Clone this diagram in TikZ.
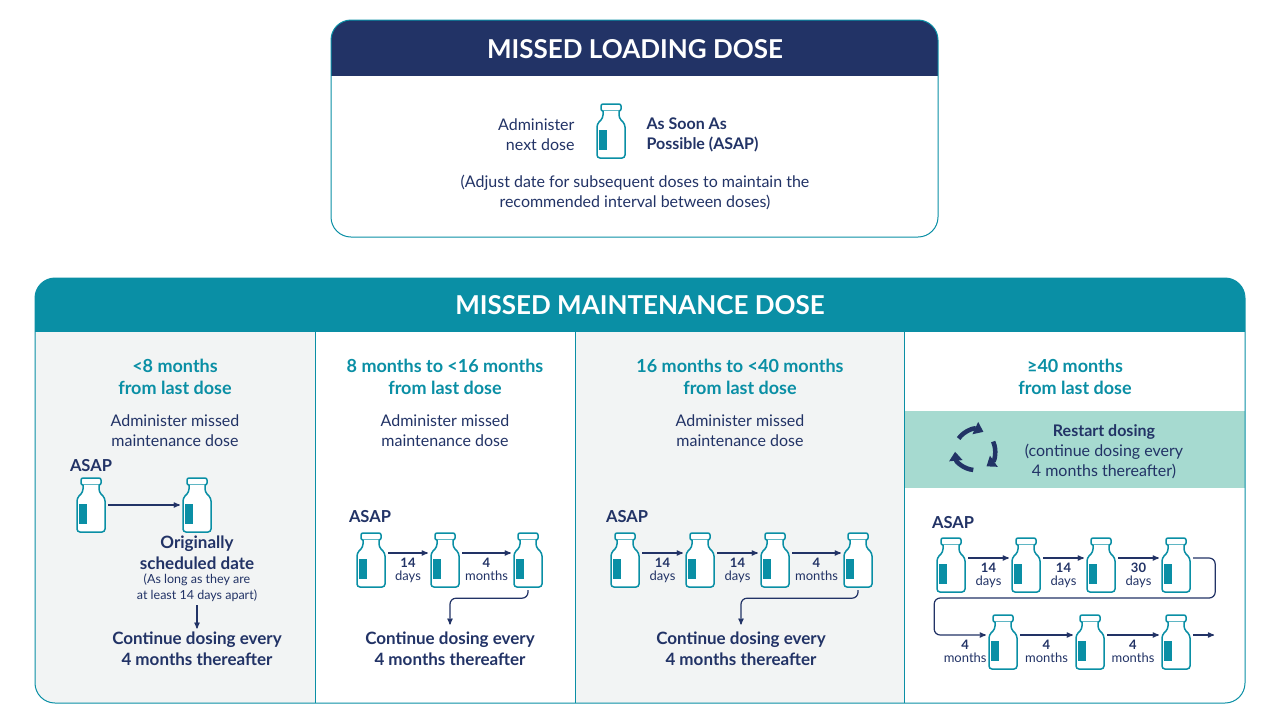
\documentclass[tikz,border=0pt]{standalone}
\usepackage{fontspec}
\setmainfont{Lato}
\usetikzlibrary{calc,positioning,arrows,arrows.meta}
\definecolor{navy}{HTML}{223366}
\definecolor{tealc}{HTML}{0A8FA5}
\definecolor{mint}{HTML}{A6DAD0}
\definecolor{pale}{HTML}{F2F4F4}
\tikzset{
  vial/.style={minimum width=34pt, minimum height=60pt, inner sep=0pt,
    path picture={
      \begin{scope}[shift={(path picture bounding box.center)}, line width=1.5pt, draw=tealc]
        \draw[fill=white, rounded corners=2pt] (-10,-27) rectangle (10,-20);
        \draw[fill=white, rounded corners=3pt] (-8,-20) -- (-8,-13) -- (-14,-7) -- (-14,27) -- (14,27) -- (14,-7) -- (8,-13) -- (8,-20);
        \fill[tealc] (-12.5,-1) rectangle (-4,19);
      \end{scope}}},
  headtxt/.style={text=tealc, font=\bfseries\fontsize{18}{22}\selectfont, align=center},
  bodytxt/.style={text=navy, font=\fontsize{16}{20}\selectfont, align=center},
  conttxt/.style={text=navy, font=\bfseries\fontsize{17}{21}\selectfont, align=center},
  asap/.style={text=navy, font=\bfseries\fontsize{16.5}{19}\selectfont},
  gap/.style={text=navy, font=\fontsize{13}{13}\selectfont, align=center, inner sep=1pt, below=3pt},
  link/.style={->, draw=navy, line width=1.2pt, rounded corners=6pt},
}
\begin{document}
\begin{tikzpicture}[x=1pt, y=-1pt, >=stealth']
  \useasboundingbox[fill=white] (0,0) rectangle (1280,724);

  % loading dose box
  \begin{scope}
    \clip[rounded corners=20pt] (331,20) rectangle (938,237);
    \fill[navy] (331,20) rectangle (938,76);
  \end{scope}
  \draw[tealc, line width=1pt, rounded corners=20pt] (331,20) rectangle (938,237);
  \node[text=white, font=\bfseries\fontsize{26}{30}\selectfont] (loadtitle) at (635,49) {MISSED LOADING DOSE};
  \node[vial] (loadvial) at (611,131) {};
  \node[bodytxt, align=right, anchor=east] (loadleft) at (578,135) {Administer\\next dose};
  \node[asap, align=left, anchor=west, font=\bfseries\fontsize{16}{20}\selectfont] (loadright) at (643,135) {As Soon As\\Possible (ASAP)};
  \node[bodytxt] (loadnote) at (635,192) {(Adjust date for subsequent doses to maintain the\\recommended interval between doses)};

  % maintenance dose frame
  \begin{scope}
    \clip[rounded corners=20pt] (35,278) rectangle (1245,703);
    \fill[tealc] (35,278) rectangle (1245,332);
    \fill[pale] (35,332) rectangle (315,703);
    \fill[pale] (575,332) rectangle (904,703);
    \fill[mint] (904,411) rectangle (1245,488);
  \end{scope}
  \draw[tealc, line width=1pt, rounded corners=20pt] (35,278) rectangle (1245,703);
  \foreach \xx in {315,575,904}
    \draw[tealc, line width=1pt] (\xx,332) -- (\xx,703);
  \node[text=white, font=\bfseries\fontsize{26}{30}\selectfont] (mainttitle) at (640,305) {MISSED MAINTENANCE DOSE};

  % column 1
  \node[headtxt] (c1head) at (175,377) {<8 months\\from last dose};
  \node[bodytxt] (c1do) at (175,431) {Administer missed\\maintenance dose};
  \node[asap] (c1asap) at (91,466) {ASAP};
  \node[vial] (c1v1) at (91,505) {};
  \node[vial] (c1v2) at (197,505) {};
  \draw[link] (c1v1) -- (c1v2);
  \node[conttxt] (c1orig) at (197,553) {Originally\\scheduled date};
  \node[text=navy, font=\fontsize{12.5}{16}\selectfont, align=center] (c1note) at (197,588) {(As long as they are\\at least 14 days apart)};
  \node[conttxt] (c1cont) at (197,649) {Continue dosing every\\4 months thereafter};
  \draw[link] (c1note) -- (c1cont);

  % column 2
  \node[headtxt] (c2head) at (445,377) {8 months to <16 months\\from last dose};
  \node[bodytxt] (c2do) at (445,431) {Administer missed\\maintenance dose};
  \node[asap] (c2asap) at (370,517) {ASAP};
  \node[vial] (c2v1) at (371,560) {};
  \node[vial] (c2v2) at (445,560) {};
  \node[vial] (c2v3) at (528,560) {};
  \draw[link] ([yshift=7pt]c2v1.east) -- node[gap] {\textbf{14}\\days} ([yshift=7pt]c2v2.west);
  \draw[link] ([yshift=7pt]c2v2.east) -- node[gap] {\textbf{4}\\months} ([yshift=7pt]c2v3.west);
  \node[conttxt] (c2cont) at (450,649) {Continue dosing every\\4 months thereafter};
  \draw[link] (c2v3.south) -- ++(0,8) -| ([yshift=4pt]c2cont.north);

  % column 3
  \node[headtxt] (c3head) at (740,377) {16 months to <40 months\\from last dose};
  \node[bodytxt] (c3do) at (740,431) {Administer missed\\maintenance dose};
  \node[asap] (c3asap) at (627,517) {ASAP};
  \node[vial] (c3v1) at (625,560) {};
  \node[vial] (c3v2) at (700,560) {};
  \node[vial] (c3v3) at (775,560) {};
  \node[vial] (c3v4) at (858,560) {};
  \draw[link] ([yshift=7pt]c3v1.east) -- node[gap] {\textbf{14}\\days} ([yshift=7pt]c3v2.west);
  \draw[link] ([yshift=7pt]c3v2.east) -- node[gap] {\textbf{14}\\days} ([yshift=7pt]c3v3.west);
  \draw[link] ([yshift=7pt]c3v3.east) -- node[gap] {\textbf{4}\\months} ([yshift=7pt]c3v4.west);
  \node[conttxt] (c3cont) at (741,649) {Continue dosing every\\4 months thereafter};
  \draw[link] (c3v4.south) -- ++(0,8) -| ([yshift=4pt]c3cont.north);

  % column 4
  \node[headtxt] (c4head) at (1075,377) {≥40 months\\from last dose};
  \node[bodytxt] (c4do) at (1104,452) {\textbf{Restart dosing}\\(continue dosing every\\4 months thereafter)};
  \coordinate (cyc) at (975,450);
  \foreach \aa in {-145,-25,95}
    \draw[navy, line width=4.5pt, -{Triangle[length=9pt,width=13pt]}] ($(cyc)+(\aa:20)$) arc[start angle=\aa, end angle=\aa+80, radius=20];
  \node[asap] (c4asap) at (953,523) {ASAP};
  \node[vial] (c4v1) at (951,565) {};
  \node[vial] (c4v2) at (1026,565) {};
  \node[vial] (c4v3) at (1101,565) {};
  \node[vial] (c4v4) at (1176,565) {};
  \node[vial] (c4v5) at (1003,642) {};
  \node[vial] (c4v6) at (1090,642) {};
  \node[vial] (c4v7) at (1176,642) {};
  \draw[link] ([yshift=7pt]c4v1.east) -- node[gap] {\textbf{14}\\days} ([yshift=7pt]c4v2.west);
  \draw[link] ([yshift=7pt]c4v2.east) -- node[gap] {\textbf{14}\\days} ([yshift=7pt]c4v3.west);
  \draw[link] ([yshift=7pt]c4v3.east) -- node[gap] {\textbf{30}\\days} ([yshift=7pt]c4v4.west);
  \draw[link] ([yshift=7pt]c4v4.east) -- ++(22,0) |- ++(-281,40) |- node[gap, pos=0.8] {\textbf{4}\\months} ([yshift=7pt]c4v5.west);
  \draw[link] ([yshift=7pt]c4v5.east) -- node[gap] {\textbf{4}\\months} ([yshift=7pt]c4v6.west);
  \draw[link] ([yshift=7pt]c4v6.east) -- node[gap] {\textbf{4}\\months} ([yshift=7pt]c4v7.west);
  \coordinate (c4end) at (1214,635);
  \draw[link] ([yshift=7pt]c4v7.east) -- (c4end);
\end{tikzpicture}
\end{document}
